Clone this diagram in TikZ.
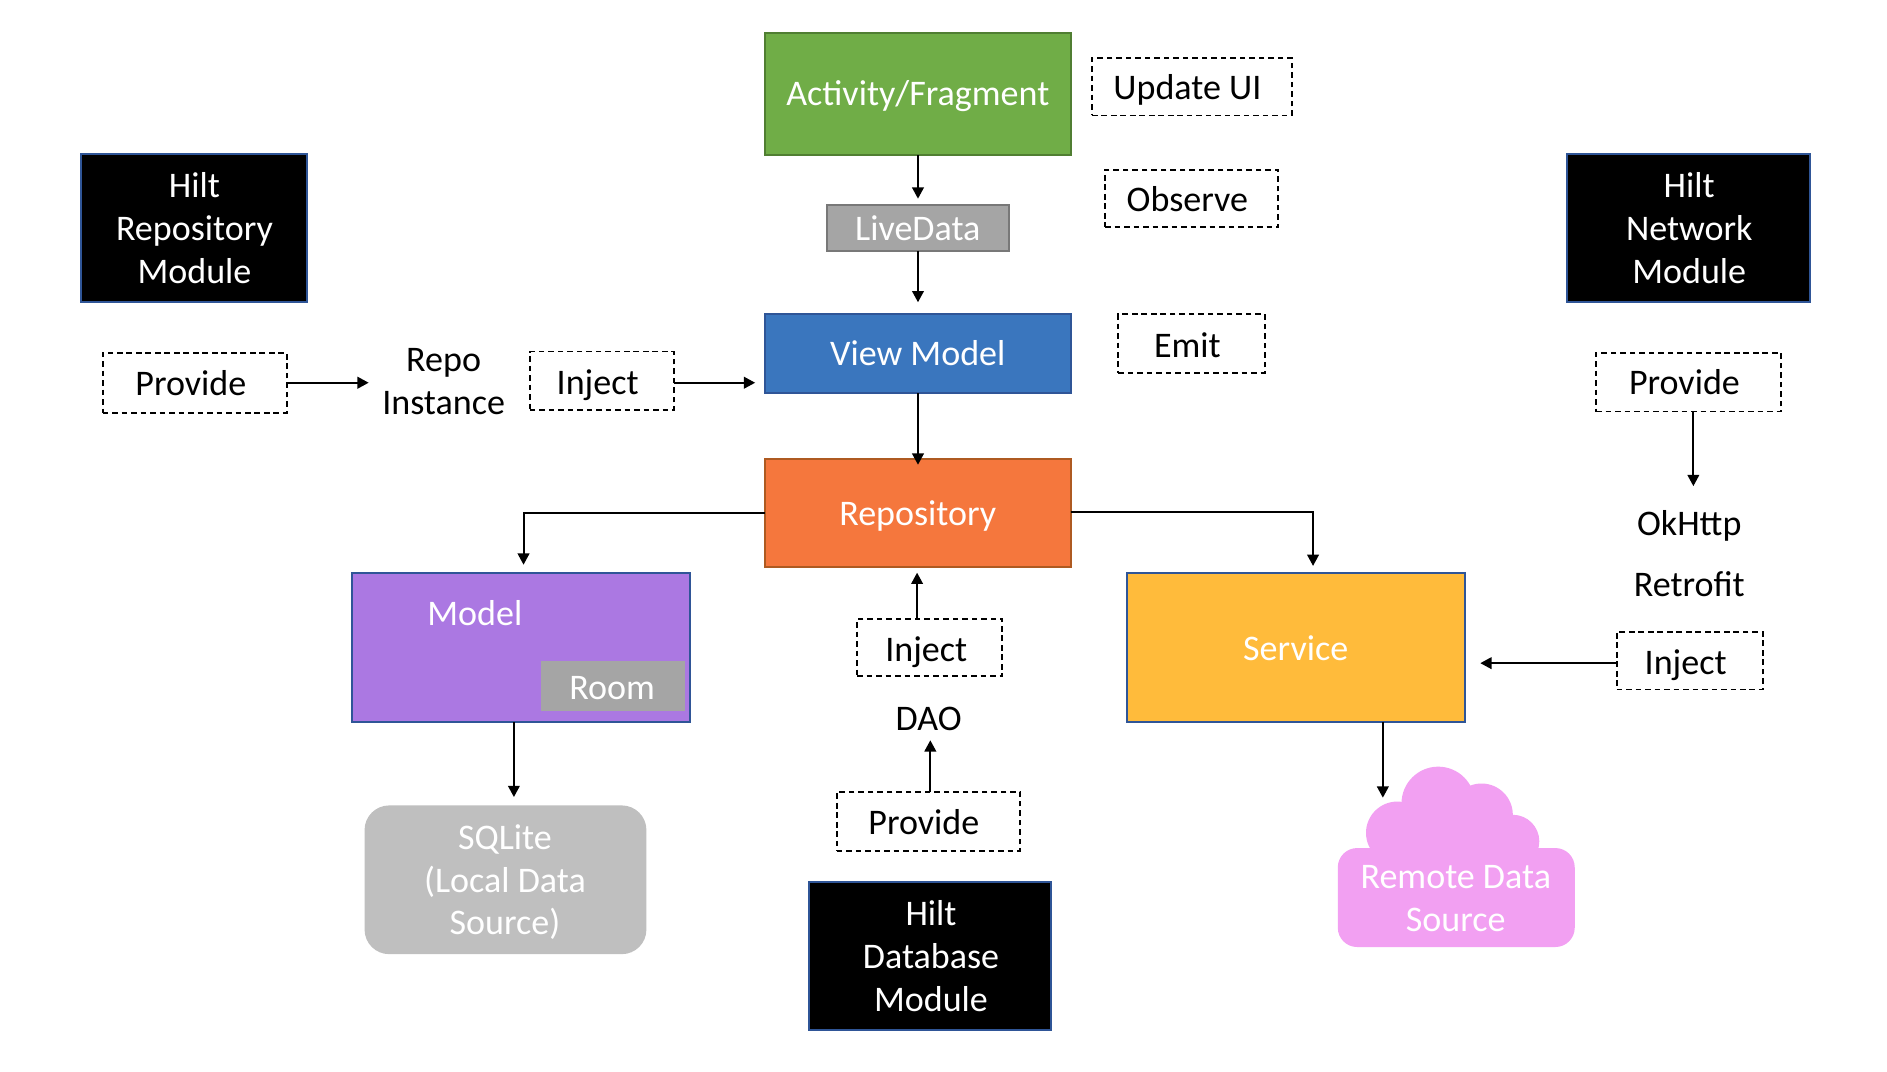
\documentclass[tikz,border=0pt]{standalone}
\usepackage{fontspec}
\setmainfont{Carlito}
\usetikzlibrary{arrows.meta,calc}
\definecolor{cblue}{HTML}{2F5597}
\definecolor{cgreen}{HTML}{70AD47}
\definecolor{cgreend}{HTML}{507E32}
\definecolor{cgrey}{HTML}{A5A5A5}
\definecolor{cgreyd}{HTML}{787878}
\definecolor{cvm}{HTML}{3A76BE}
\definecolor{corange}{HTML}{F5773D}
\definecolor{corangd}{HTML}{AE5A21}
\definecolor{cpurple}{HTML}{AB78E2}
\definecolor{cyellow}{HTML}{FFBB3B}
\definecolor{csql}{HTML}{BFBFBF}
\definecolor{cpink}{HTML}{F2A0F2}
\tikzset{
  x=0.02407cm,y=-0.02407cm,
  lbl/.style={font=\fontsize{20.5}{24.3}\selectfont,align=center,inner sep=0pt,yshift=-1.8pt,xshift=0.4pt},
  wlbl/.style={lbl,text=white},
  klbl/.style={lbl,text=black},
  bx/.style={inner sep=0pt,outer sep=0pt,line width=1.1pt},
  solidbox/.style n args={2}{bx,fill=#1,draw=#2},
  dashbox/.style={bx,draw=black,fill=white,line width=1.05pt,dash pattern=on 3.2pt off 2.2pt},
  arr/.style={draw=black,line width=1.1pt,-{Triangle[length=6.4pt,width=6.6pt]}},
}
\newcommand{\U}{0.6823pt}
% style, name, x1,y1,x2,y2, tx,ty, textstyle (text comes from \bxtext)
\newcommand{\bxx}[9]{%
  \pgfmathsetmacro{\bw}{(#5-#3)*0.6823}\pgfmathsetmacro{\bh}{(#6-#4)*0.6823}%
  \node[#1,minimum width=\bw pt,minimum height=\bh pt] (#2) at ({(#3+#5)/2},{(#4+#6)/2}) {};%
  \node[#9] (#2t) at (#7,#8) {\bxtext};}
\begin{document}
\begin{tikzpicture}
\useasboundingbox (0,0) rectangle (1567.9,890.7);
% solid boxes
\def\bxtext{\strut Activity/Fragment}
\bxx{solidbox={cgreen}{cgreend}}{act}{635}{27}{890}{129}{762}{78}{wlbl}
\def\bxtext{\strut LiveData}
\bxx{solidbox={cgrey}{cgreyd}}{live}{687}{170}{838.5}{208.5}{762}{190}{wlbl}
\def\bxtext{\strut View Model}
\bxx{solidbox={cvm}{cblue}}{vm}{635}{261}{890}{327}{762}{294}{wlbl}
\def\bxtext{\strut Repository}
\bxx{solidbox={corange}{corangd}}{repo}{635}{381}{890}{471}{762}{427}{wlbl}
\def\bxtext{\strut Model}
\bxx{solidbox={cpurple}{cblue}}{model}{292}{476}{573.5}{600}{394}{510}{wlbl}
\def\bxtext{\strut Room}
\bxx{bx,fill=cgrey}{room}{449}{549}{569}{591}{508}{571.5}{wlbl}
\def\bxtext{\strut Service}
\bxx{solidbox={cyellow}{cblue}}{svc}{936}{476}{1217.5}{600}{1076}{539}{wlbl}
\def\bxtext{\strut SQLite\\\strut (Local Data\\\strut Source)}
\bxx{bx,fill=csql,rounded corners=14pt}{sq}{302.5}{669}{537.5}{793}{419}{731.5}{wlbl}
\def\bxtext{\strut Hilt\\\strut Repository\\\strut Module}
\bxx{solidbox={black}{cblue}}{hrepo}{67}{128}{255.5}{251}{161}{190}{wlbl}
\def\bxtext{\strut Hilt\\\strut Network\\\strut Module}
\bxx{solidbox={black}{cblue}}{hnet}{1302}{128}{1504}{251}{1403}{190}{wlbl}
\def\bxtext{\strut Hilt\\\strut Database\\\strut Module}
\bxx{solidbox={black}{cblue}}{hdb}{672}{733}{873.5}{856}{773}{795}{wlbl}
% dashed labels
\def\bxtext{\strut Update UI}
\bxx{dashbox}{upd}{907}{48}{1073.5}{96}{986}{73}{klbl}
\def\bxtext{\strut Observe}
\bxx{dashbox}{obs}{918}{141}{1062}{189}{986}{166}{klbl}
\def\bxtext{\strut Emit}
\bxx{dashbox}{emit}{929}{261}{1051}{310}{986}{287}{klbl}
\def\bxtext{\strut Provide}
\bxx{dashbox}{pl}{85}{293}{238.5}{343}{158}{319}{klbl}
\def\bxtext{\strut Inject}
\bxx{dashbox}{il}{440}{292}{560}{341}{496}{318}{klbl}
\def\bxtext{\strut Provide}
\bxx{dashbox}{pr}{1326}{293}{1480}{342}{1399}{318}{klbl}
\def\bxtext{\strut Inject}
\bxx{dashbox}{ir}{1343}{525}{1465}{573}{1400}{551}{klbl}
\def\bxtext{\strut Inject}
\bxx{dashbox}{ic}{712}{514}{833}{562}{769}{540}{klbl}
\def\bxtext{\strut Provide}
\bxx{dashbox}{pc}{695}{658}{848}{707}{767}{684}{klbl}
% plain text
\node[klbl] (inst) at (368,317) {\strut Repo\\\strut Instance};
\node[klbl] (ok) at (1403,435) {\strut OkHttp};
\node[klbl] (retro) at (1403,485.5) {\strut Retrofit};
\node[klbl] (dao) at (771,597) {\strut DAO};
% cloud
\fill[cpink] (1195,667.5) circle [radius=30.5];
\fill[cpink] (1231,677) circle [radius=26];
\fill[cpink] (1257,699) circle [radius=22];
\fill[cpink] (1161,692) circle [radius=26];
\fill[cpink] (1165,680) rectangle (1260,720);
\node[inner sep=0pt,outer sep=0pt,fill=cpink,rounded corners=11pt,minimum width=134.8pt,minimum height=56.3pt] (cloud) at (1210,745.75) {};
\node[wlbl] (cloudt) at (1209,746.5) {\strut Remote Data\\\strut Source};
% connector x positions
\coordinate (xa) at (427,0);
\coordinate (xb) at (1149,0);
\coordinate (xc) at (1407,0);
\coordinate (xd) at (773,0);
\coordinate (xe) at (435,0);
\coordinate (xf) at (1091,0);
\coordinate (xg) at (762,0);
% connectors
\draw[arr,shorten >=5*\U] (act.south -| live.north) -- (live.north);
\draw[arr,shorten >=10*\U] (live.south) -- (live.south |- vm.north);
\draw[arr,shorten >=-5*\U] (vm.south -| live.south) -- (repo.north -| live.south);
\draw[arr,shorten >=11*\U] (pl.east) -- (pl.east -| inst.west);
\draw[arr,shorten >=8*\U] ($(il.east)+(0,1.5)$) -- ($(il.east -| vm.west)+(0,1.5)$);
\draw[arr] (repo.west) -- (repo.west -| xe) -- ($(model.north -| xe)+(0,-7)$);
\draw[arr] ($(repo.east)+(0,-0.6)$) -- ($(repo.east -| xf)+(0,-0.6)$) -- ($(svc.north -| xf)+(0,-6)$);
\draw[arr,shorten >=7*\U] (model.south -| xa) -- (sq.north -| xa);
\draw[arr] (svc.south -| xb) -- ($(svc.south -| xb)+(0,63)$);
\draw[arr,shorten >=5*\U] (ic.north -| xg) -- (repo.south -| xg);
\draw[arr] (pc.north -| xd) -- ($(pc.north -| xd)+(0,-43)$);
\draw[arr] (pr.south -| xc) -- ($(pr.south -| xc)+(0,62)$);
\draw[arr,shorten >=13*\U] ($(ir.west)+(0,2)$) -- ($(ir.west -| svc.east)+(0,2)$);
\end{tikzpicture}
\end{document}
